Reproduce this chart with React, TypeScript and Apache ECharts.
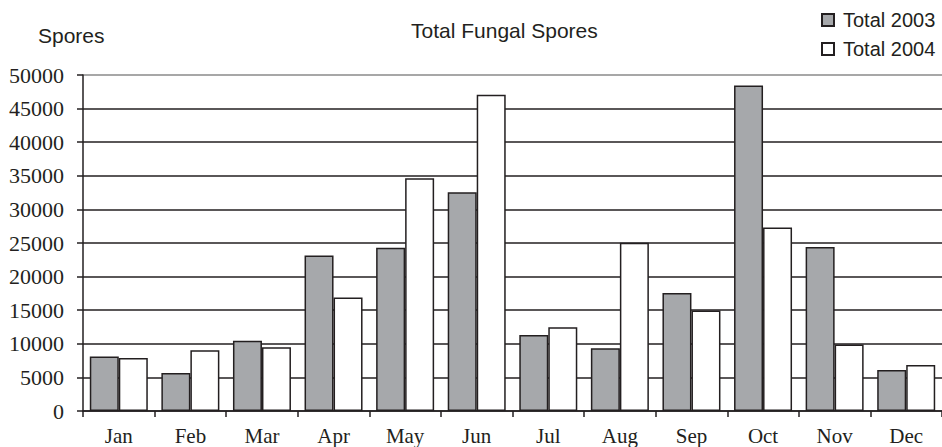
import React, { useEffect, useRef } from "react";
import * as echarts from "echarts";

const months = ["Jan", "Feb", "Mar", "Apr", "May", "Jun", "Jul", "Aug", "Sep", "Oct", "Nov", "Dec"];
const total2003 = [8100, 5650, 10450, 23150, 24300, 32550, 11300, 9350, 17550, 48450, 24400, 6100];
const total2004 = [7900, 9050, 9500, 16900, 34650, 47050, 12450, 25050, 14950, 27300, 9900, 6850];
const seriesNames = ["Total 2003", "Total 2004"];

const INK = "#231f20";
const SANS = "'Liberation Sans', Arial, sans-serif";
const SERIF = "'Liberation Serif', 'Times New Roman', serif";

export default function App() {
  const ref = useRef<HTMLDivElement>(null);
  useEffect(() => {
    if (!ref.current) return;
    const chart = echarts.init(ref.current, undefined, { renderer: "svg" });
    const gridColors = [INK, INK, INK, INK, INK, INK, INK, INK, INK, INK, "#8a8a8a"];
    chart.setOption({
      animation: false,
      backgroundColor: "#ffffff",
      title: [
        {
          text: "Total Fungal Spores",
          left: 406,
          top: 15,
          textStyle: { fontFamily: SANS, fontSize: 21, fontWeight: "normal", color: INK },
        },
        {
          text: "Spores",
          left: 33,
          top: 20,
          textStyle: { fontFamily: SANS, fontSize: 21, fontWeight: "normal", color: INK },
        },
      ],
      legend: {
        data: seriesNames,
        orient: "vertical",
        left: 816,
        top: 5,
        itemWidth: 12,
        itemHeight: 12,
        itemGap: 9,
        icon: "rect",
        textStyle: { fontFamily: SANS, fontSize: 20, color: INK, padding: [0, 0, 0, 4] },
      },
      grid: { left: 83, top: 75, width: 864, height: 336, containLabel: false },
      xAxis: {
        type: "category",
        data: months,
        boundaryGap: true,
        axisLine: { show: true, lineStyle: { color: INK, width: 1.5 } },
        axisTick: { show: true, length: 6, lineStyle: { color: INK, width: 1.5 } },
        axisLabel: { fontFamily: SERIF, fontSize: 21, color: INK, margin: 14 },
        splitLine: { show: false },
      },
      yAxis: {
        type: "value",
        min: 0,
        max: 50000,
        interval: 5000,
        axisLine: { show: true, lineStyle: { color: INK, width: 1.5 } },
        axisTick: { show: true, length: 6, lineStyle: { color: INK, width: 1.5 } },
        axisLabel: {
          fontFamily: SERIF,
          fontSize: 22,
          color: INK,
          margin: 19,
          formatter: (v: number) => String(v),
        },
        splitLine: { show: true, lineStyle: { color: gridColors, width: 1.5 } },
      },
      series: [
        {
          name: seriesNames[0],
          type: "bar",
          data: total2003,
          barWidth: 29,
          barGap: "0%",
          itemStyle: { color: "#a6a8ab", borderColor: INK, borderWidth: 1.5 },
        },
        {
          name: seriesNames[1],
          type: "bar",
          data: total2004,
          barWidth: 29,
          barGap: "0%",
          itemStyle: { color: "#ffffff", borderColor: INK, borderWidth: 1.5 },
        },
      ],
    });
    return () => chart.dispose();
  }, []);
  return (
    <div style={{ position: "absolute", left: 0, top: 0, width: 942, height: 447, overflow: "hidden" }}>
      <div ref={ref} style={{ width: 942, height: 447 }} />
    </div>
  );
}
